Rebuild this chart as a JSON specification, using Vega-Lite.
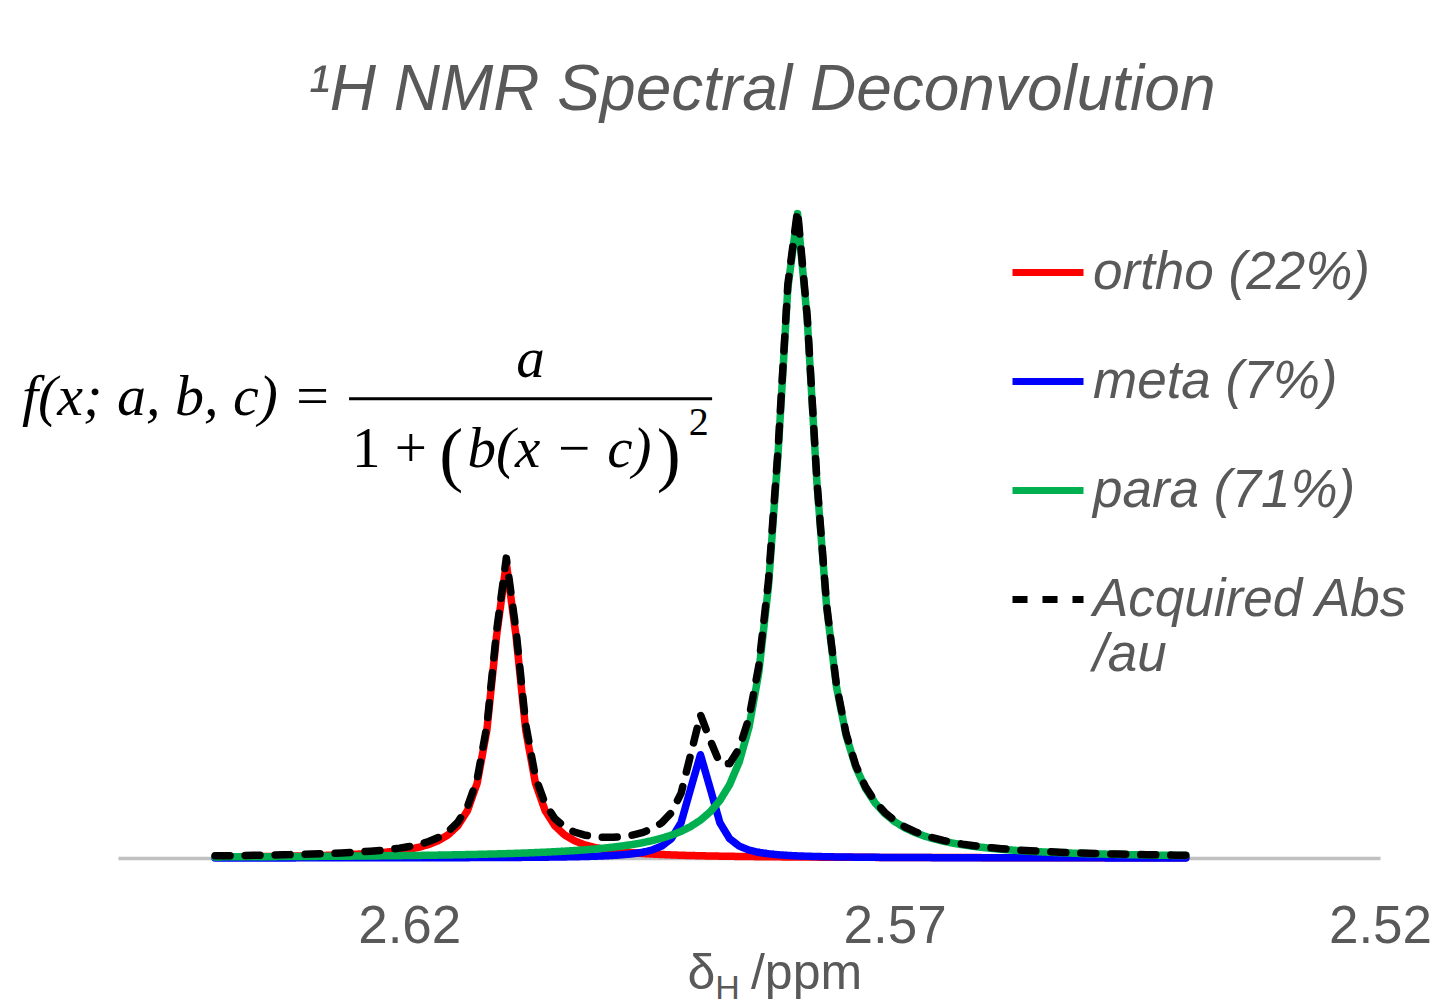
{
  "$schema": "https://vega.github.io/schema/vega-lite/v6.json",
  "width": 1262,
  "height": 710,
  "autosize": {"type": "none"},
  "padding": {"left": 118, "top": 148, "right": 56, "bottom": 149},
  "background": "white",
  "title": {
    "text": "¹H NMR Spectral Deconvolution",
    "font": "Liberation Sans", "fontSize": 64, "fontStyle": "italic", "fontWeight": "normal",
    "color": "#595959", "anchor": "middle", "frame": "group", "offset": -26,
    "baseline": "alphabetic", "dx": 13
  },
  "config": {
    "view": {"stroke": null},
    "legend": {
      "orient": "none", "legendX": 891, "legendY": 85.5, "padding": 0,
      "symbolType": "stroke", "symbolSize": 5041, "symbolStrokeWidth": 7,
      "labelFont": "Liberation Sans", "labelFontSize": 53, "labelFontStyle": "italic",
      "labelColor": "#595959", "labelLimit": 0, "labelOffset": 6, "rowPadding": 43,
      "labelBaseline": "middle"
    }
  },
  "datasets": {
    "spectrum": [
      {"ppm": 2.640, "ortho": 0.00155, "meta": 0.00013, "para": 0.00170, "acquired": 0.00338},
      {"ppm": 2.639, "ortho": 0.00166, "meta": 0.00014, "para": 0.00176, "acquired": 0.00356},
      {"ppm": 2.638, "ortho": 0.00178, "meta": 0.00014, "para": 0.00182, "acquired": 0.00374},
      {"ppm": 2.637, "ortho": 0.00191, "meta": 0.00015, "para": 0.00188, "acquired": 0.00394},
      {"ppm": 2.636, "ortho": 0.00206, "meta": 0.00016, "para": 0.00195, "acquired": 0.00417},
      {"ppm": 2.635, "ortho": 0.00223, "meta": 0.00016, "para": 0.00202, "acquired": 0.00441},
      {"ppm": 2.634, "ortho": 0.00242, "meta": 0.00017, "para": 0.00210, "acquired": 0.00469},
      {"ppm": 2.633, "ortho": 0.00263, "meta": 0.00018, "para": 0.00218, "acquired": 0.00499},
      {"ppm": 2.632, "ortho": 0.00287, "meta": 0.00019, "para": 0.00226, "acquired": 0.00532},
      {"ppm": 2.631, "ortho": 0.00315, "meta": 0.00020, "para": 0.00235, "acquired": 0.00570},
      {"ppm": 2.630, "ortho": 0.00347, "meta": 0.00021, "para": 0.00244, "acquired": 0.00612},
      {"ppm": 2.629, "ortho": 0.00384, "meta": 0.00022, "para": 0.00255, "acquired": 0.00661},
      {"ppm": 2.628, "ortho": 0.00428, "meta": 0.00023, "para": 0.00265, "acquired": 0.00716},
      {"ppm": 2.627, "ortho": 0.00479, "meta": 0.00024, "para": 0.00277, "acquired": 0.00780},
      {"ppm": 2.626, "ortho": 0.00540, "meta": 0.00026, "para": 0.00289, "acquired": 0.00855},
      {"ppm": 2.625, "ortho": 0.00614, "meta": 0.00027, "para": 0.00302, "acquired": 0.00943},
      {"ppm": 2.624, "ortho": 0.00703, "meta": 0.00029, "para": 0.00316, "acquired": 0.01048},
      {"ppm": 2.623, "ortho": 0.00813, "meta": 0.00030, "para": 0.00330, "acquired": 0.01173},
      {"ppm": 2.622, "ortho": 0.00952, "meta": 0.00032, "para": 0.00346, "acquired": 0.01330},
      {"ppm": 2.621, "ortho": 0.01128, "meta": 0.00035, "para": 0.00363, "acquired": 0.01526},
      {"ppm": 2.620, "ortho": 0.01358, "meta": 0.00037, "para": 0.00382, "acquired": 0.01777},
      {"ppm": 2.619, "ortho": 0.01665, "meta": 0.00039, "para": 0.00402, "acquired": 0.02106},
      {"ppm": 2.618, "ortho": 0.02087, "meta": 0.00042, "para": 0.00423, "acquired": 0.02552},
      {"ppm": 2.617, "ortho": 0.02688, "meta": 0.00045, "para": 0.00446, "acquired": 0.03179},
      {"ppm": 2.616, "ortho": 0.03583, "meta": 0.00049, "para": 0.00471, "acquired": 0.04103},
      {"ppm": 2.615, "ortho": 0.04987, "meta": 0.00053, "para": 0.00498, "acquired": 0.05538},
      {"ppm": 2.614, "ortho": 0.07342, "meta": 0.00057, "para": 0.00528, "acquired": 0.07927},
      {"ppm": 2.613, "ortho": 0.11600, "meta": 0.00063, "para": 0.00561, "acquired": 0.12224},
      {"ppm": 2.612, "ortho": 0.19820, "meta": 0.00068, "para": 0.00596, "acquired": 0.20484},
      {"ppm": 2.611, "ortho": 0.34450, "meta": 0.00075, "para": 0.00635, "acquired": 0.35160},
      {"ppm": 2.610, "ortho": 0.45700, "meta": 0.00083, "para": 0.00678, "acquired": 0.46461},
      {"ppm": 2.609, "ortho": 0.34450, "meta": 0.00091, "para": 0.00725, "acquired": 0.35266},
      {"ppm": 2.608, "ortho": 0.19820, "meta": 0.00102, "para": 0.00778, "acquired": 0.20700},
      {"ppm": 2.607, "ortho": 0.11600, "meta": 0.00114, "para": 0.00836, "acquired": 0.12550},
      {"ppm": 2.606, "ortho": 0.07342, "meta": 0.00129, "para": 0.00901, "acquired": 0.08372},
      {"ppm": 2.605, "ortho": 0.04987, "meta": 0.00146, "para": 0.00974, "acquired": 0.06107},
      {"ppm": 2.604, "ortho": 0.03583, "meta": 0.00168, "para": 0.01057, "acquired": 0.04808},
      {"ppm": 2.603, "ortho": 0.02688, "meta": 0.00194, "para": 0.01150, "acquired": 0.04032},
      {"ppm": 2.602, "ortho": 0.02087, "meta": 0.00227, "para": 0.01256, "acquired": 0.03570},
      {"ppm": 2.601, "ortho": 0.01665, "meta": 0.00270, "para": 0.01377, "acquired": 0.03312},
      {"ppm": 2.600, "ortho": 0.01358, "meta": 0.00325, "para": 0.01517, "acquired": 0.03200},
      {"ppm": 2.599, "ortho": 0.01128, "meta": 0.00399, "para": 0.01679, "acquired": 0.03206},
      {"ppm": 2.598, "ortho": 0.00952, "meta": 0.00502, "para": 0.01869, "acquired": 0.03323},
      {"ppm": 2.597, "ortho": 0.00813, "meta": 0.00650, "para": 0.02091, "acquired": 0.03554},
      {"ppm": 2.596, "ortho": 0.00703, "meta": 0.00871, "para": 0.02356, "acquired": 0.03930},
      {"ppm": 2.595, "ortho": 0.00614, "meta": 0.01226, "para": 0.02675, "acquired": 0.04515},
      {"ppm": 2.594, "ortho": 0.00540, "meta": 0.01836, "para": 0.03061, "acquired": 0.05437},
      {"ppm": 2.593, "ortho": 0.00479, "meta": 0.02996, "para": 0.03537, "acquired": 0.07012},
      {"ppm": 2.592, "ortho": 0.00428, "meta": 0.05463, "para": 0.04130, "acquired": 0.10021},
      {"ppm": 2.591, "ortho": 0.00384, "meta": 0.10794, "para": 0.04884, "acquired": 0.16062},
      {"ppm": 2.590, "ortho": 0.00347, "meta": 0.16000, "para": 0.05860, "acquired": 0.22207},
      {"ppm": 2.589, "ortho": 0.00315, "meta": 0.10794, "para": 0.07151, "acquired": 0.18260},
      {"ppm": 2.588, "ortho": 0.00287, "meta": 0.05463, "para": 0.08905, "acquired": 0.14655},
      {"ppm": 2.587, "ortho": 0.00263, "meta": 0.02996, "para": 0.11359, "acquired": 0.14618},
      {"ppm": 2.586, "ortho": 0.00242, "meta": 0.01836, "para": 0.14913, "acquired": 0.16991},
      {"ppm": 2.585, "ortho": 0.00223, "meta": 0.01226, "para": 0.20260, "acquired": 0.21709},
      {"ppm": 2.584, "ortho": 0.00206, "meta": 0.00871, "para": 0.28630, "acquired": 0.29707},
      {"ppm": 2.583, "ortho": 0.00191, "meta": 0.00650, "para": 0.42040, "acquired": 0.42881},
      {"ppm": 2.582, "ortho": 0.00178, "meta": 0.00502, "para": 0.62830, "acquired": 0.63510},
      {"ppm": 2.581, "ortho": 0.00166, "meta": 0.00399, "para": 0.88280, "acquired": 0.88845},
      {"ppm": 2.580, "ortho": 0.00155, "meta": 0.00325, "para": 0.99836, "acquired": 1.00316},
      {"ppm": 2.579, "ortho": 0.00145, "meta": 0.00270, "para": 0.83450, "acquired": 0.83865},
      {"ppm": 2.578, "ortho": 0.00136, "meta": 0.00227, "para": 0.58040, "acquired": 0.58403},
      {"ppm": 2.577, "ortho": 0.00128, "meta": 0.00194, "para": 0.38830, "acquired": 0.39152},
      {"ppm": 2.576, "ortho": 0.00121, "meta": 0.00168, "para": 0.26630, "acquired": 0.26919},
      {"ppm": 2.575, "ortho": 0.00114, "meta": 0.00146, "para": 0.19000, "acquired": 0.19260},
      {"ppm": 2.574, "ortho": 0.00108, "meta": 0.00129, "para": 0.14086, "acquired": 0.14323},
      {"ppm": 2.573, "ortho": 0.00102, "meta": 0.00114, "para": 0.10796, "acquired": 0.11012},
      {"ppm": 2.572, "ortho": 0.00097, "meta": 0.00102, "para": 0.08508, "acquired": 0.08707},
      {"ppm": 2.571, "ortho": 0.00092, "meta": 0.00091, "para": 0.06862, "acquired": 0.07045},
      {"ppm": 2.570, "ortho": 0.00087, "meta": 0.00083, "para": 0.05643, "acquired": 0.05813},
      {"ppm": 2.569, "ortho": 0.00083, "meta": 0.00075, "para": 0.04718, "acquired": 0.04876},
      {"ppm": 2.568, "ortho": 0.00079, "meta": 0.00068, "para": 0.04000, "acquired": 0.04147},
      {"ppm": 2.567, "ortho": 0.00076, "meta": 0.00063, "para": 0.03433, "acquired": 0.03572},
      {"ppm": 2.566, "ortho": 0.00072, "meta": 0.00057, "para": 0.02977, "acquired": 0.03106},
      {"ppm": 2.565, "ortho": 0.00069, "meta": 0.00053, "para": 0.02606, "acquired": 0.02728},
      {"ppm": 2.564, "ortho": 0.00066, "meta": 0.00049, "para": 0.02300, "acquired": 0.02415},
      {"ppm": 2.563, "ortho": 0.00063, "meta": 0.00045, "para": 0.02044, "acquired": 0.02152},
      {"ppm": 2.562, "ortho": 0.00061, "meta": 0.00042, "para": 0.01828, "acquired": 0.01931},
      {"ppm": 2.561, "ortho": 0.00058, "meta": 0.00039, "para": 0.01645, "acquired": 0.01742},
      {"ppm": 2.560, "ortho": 0.00056, "meta": 0.00037, "para": 0.01488, "acquired": 0.01581},
      {"ppm": 2.559, "ortho": 0.00054, "meta": 0.00035, "para": 0.01352, "acquired": 0.01441},
      {"ppm": 2.558, "ortho": 0.00052, "meta": 0.00032, "para": 0.01234, "acquired": 0.01318},
      {"ppm": 2.557, "ortho": 0.00050, "meta": 0.00030, "para": 0.01130, "acquired": 0.01210},
      {"ppm": 2.556, "ortho": 0.00048, "meta": 0.00029, "para": 0.01039, "acquired": 0.01116},
      {"ppm": 2.555, "ortho": 0.00046, "meta": 0.00027, "para": 0.00959, "acquired": 0.01032},
      {"ppm": 2.554, "ortho": 0.00045, "meta": 0.00026, "para": 0.00888, "acquired": 0.00959},
      {"ppm": 2.553, "ortho": 0.00043, "meta": 0.00024, "para": 0.00824, "acquired": 0.00891},
      {"ppm": 2.552, "ortho": 0.00042, "meta": 0.00023, "para": 0.00767, "acquired": 0.00832},
      {"ppm": 2.551, "ortho": 0.00040, "meta": 0.00022, "para": 0.00715, "acquired": 0.00777},
      {"ppm": 2.550, "ortho": 0.00039, "meta": 0.00021, "para": 0.00669, "acquired": 0.00729},
      {"ppm": 2.549, "ortho": 0.00038, "meta": 0.00020, "para": 0.00627, "acquired": 0.00685},
      {"ppm": 2.548, "ortho": 0.00036, "meta": 0.00019, "para": 0.00589, "acquired": 0.00644},
      {"ppm": 2.547, "ortho": 0.00035, "meta": 0.00018, "para": 0.00554, "acquired": 0.00607},
      {"ppm": 2.546, "ortho": 0.00034, "meta": 0.00017, "para": 0.00522, "acquired": 0.00573},
      {"ppm": 2.545, "ortho": 0.00033, "meta": 0.00016, "para": 0.00493, "acquired": 0.00542},
      {"ppm": 2.544, "ortho": 0.00032, "meta": 0.00016, "para": 0.00466, "acquired": 0.00514},
      {"ppm": 2.543, "ortho": 0.00031, "meta": 0.00015, "para": 0.00441, "acquired": 0.00487},
      {"ppm": 2.542, "ortho": 0.00030, "meta": 0.00014, "para": 0.00419, "acquired": 0.00463},
      {"ppm": 2.541, "ortho": 0.00029, "meta": 0.00014, "para": 0.00398, "acquired": 0.00441},
      {"ppm": 2.540, "ortho": 0.00029, "meta": 0.00013, "para": 0.00378, "acquired": 0.00420}
    ]
  },
  "layer": [
    {
      "data": {"name": "spectrum"},
      "transform": [{"fold": ["ortho", "meta", "para", "acquired"], "as": ["series", "abs"]}],
      "mark": {"type": "line", "strokeWidth": 7.5, "strokeCap": "round", "strokeJoin": "round"},
      "encoding": {
        "x": {
          "field": "ppm", "type": "quantitative",
          "scale": {"domain": [2.52, 2.65], "reverse": true, "nice": false, "zero": false},
          "axis": {
            "values": [2.62, 2.57, 2.52], "format": ".2f", "title": null,
            "ticks": false, "tickSize": 0, "grid": false,
            "domainColor": "#C0C0C0", "domainWidth": 3.5,
            "labelFont": "Liberation Sans", "labelFontSize": 53, "labelColor": "#595959",
            "labelPadding": 42, "labelFlush": false, "labelOverlap": false, "labelBound": false
          }
        },
        "y": {
          "field": "abs", "type": "quantitative",
          "scale": {"domain": [0, 1.1], "nice": false, "zero": false},
          "axis": null
        },
        "color": {
          "field": "series", "type": "nominal",
          "scale": {"domain": ["ortho", "meta", "para", "acquired"], "range": ["#FF0000", "#0000FF", "#00B050", "#000000"]},
          "legend": {
            "title": null,
            "labelExpr": "datum.label == 'ortho' ? 'ortho (22%)' : datum.label == 'meta' ? 'meta (7%)' : datum.label == 'para' ? 'para (71%)' : ['Acquired Abs', '/au']"
          }
        },
        "strokeDash": {
          "field": "series", "type": "nominal",
          "scale": {"domain": ["ortho", "meta", "para", "acquired"], "range": [[1, 0], [1, 0], [1, 0], [15, 15]]},
          "legend": {
            "title": null,
            "labelExpr": "datum.label == 'ortho' ? 'ortho (22%)' : datum.label == 'meta' ? 'meta (7%)' : datum.label == 'para' ? 'para (71%)' : ['Acquired Abs', '/au']"
          }
        }
      }
    },
    {
      "data": {"values": [{}]},
      "mark": {"type": "text", "font": "Liberation Serif", "fontSize": 58, "fontStyle": "italic", "align": "left", "baseline": "alphabetic", "color": "#000000"},
      "encoding": {
        "x": {"datum": 2.6599, "type": "quantitative", "scale": {"domain": [2.52, 2.65], "reverse": true, "nice": false, "zero": false}},
        "y": {"datum": 0.6868, "type": "quantitative", "scale": {"domain": [0, 1.1], "nice": false, "zero": false}, "axis": null},
        "text": {"value": "f(x; a, b, c) ="}
      }
    },
    {
      "data": {"values": [{}]},
      "mark": {"type": "text", "font": "Liberation Serif", "fontSize": 57, "fontStyle": "italic", "align": "center", "baseline": "alphabetic", "color": "#000000"},
      "encoding": {
        "x": {"datum": 2.6075, "type": "quantitative", "scale": {"domain": [2.52, 2.65], "reverse": true, "nice": false, "zero": false}},
        "y": {"datum": 0.745, "type": "quantitative", "scale": {"domain": [0, 1.1], "nice": false, "zero": false}, "axis": null},
        "text": {"value": "a"}
      }
    },
    {
      "data": {"values": [{}]},
      "mark": {"type": "rule", "strokeWidth": 3, "color": "#000000"},
      "encoding": {
        "x": {"datum": 2.6262, "type": "quantitative", "scale": {"domain": [2.52, 2.65], "reverse": true, "nice": false, "zero": false}},
        "x2": {"datum": 2.5888},
        "y": {"datum": 0.7116, "type": "quantitative", "scale": {"domain": [0, 1.1], "nice": false, "zero": false}, "axis": null}
      }
    },
    {
      "data": {"values": [{}]},
      "mark": {"type": "text", "font": "Liberation Serif", "fontSize": 57, "align": "left", "baseline": "alphabetic", "color": "#000000"},
      "encoding": {
        "x": {"datum": 2.6259, "type": "quantitative", "scale": {"domain": [2.52, 2.65], "reverse": true, "nice": false, "zero": false}},
        "y": {"datum": 0.6062, "type": "quantitative", "scale": {"domain": [0, 1.1], "nice": false, "zero": false}, "axis": null},
        "text": {"value": "1 +"}
      }
    },
    {
      "data": {"values": [{}]},
      "mark": {"type": "text", "font": "Liberation Serif", "fontSize": 72, "align": "left", "baseline": "alphabetic", "color": "#000000"},
      "encoding": {
        "x": {"datum": 2.6169, "type": "quantitative", "scale": {"domain": [2.52, 2.65], "reverse": true, "nice": false, "zero": false}},
        "y": {"datum": 0.5891, "type": "quantitative", "scale": {"domain": [0, 1.1], "nice": false, "zero": false}, "axis": null},
        "text": {"value": "("}
      }
    },
    {
      "data": {"values": [{}]},
      "mark": {"type": "text", "font": "Liberation Serif", "fontSize": 57, "fontStyle": "italic", "align": "left", "baseline": "alphabetic", "color": "#000000"},
      "encoding": {
        "x": {"datum": 2.6140, "type": "quantitative", "scale": {"domain": [2.52, 2.65], "reverse": true, "nice": false, "zero": false}},
        "y": {"datum": 0.6062, "type": "quantitative", "scale": {"domain": [0, 1.1], "nice": false, "zero": false}, "axis": null},
        "text": {"value": "b(x − c)"}
      }
    },
    {
      "data": {"values": [{}]},
      "mark": {"type": "text", "font": "Liberation Serif", "fontSize": 72, "align": "left", "baseline": "alphabetic", "color": "#000000"},
      "encoding": {
        "x": {"datum": 2.5945, "type": "quantitative", "scale": {"domain": [2.52, 2.65], "reverse": true, "nice": false, "zero": false}},
        "y": {"datum": 0.5891, "type": "quantitative", "scale": {"domain": [0, 1.1], "nice": false, "zero": false}, "axis": null},
        "text": {"value": ")"}
      }
    },
    {
      "data": {"values": [{}]},
      "mark": {"type": "text", "font": "Liberation Serif", "fontSize": 40, "align": "left", "baseline": "alphabetic", "color": "#000000"},
      "encoding": {
        "x": {"datum": 2.5912, "type": "quantitative", "scale": {"domain": [2.52, 2.65], "reverse": true, "nice": false, "zero": false}},
        "y": {"datum": 0.6558, "type": "quantitative", "scale": {"domain": [0, 1.1], "nice": false, "zero": false}, "axis": null},
        "text": {"value": "2"}
      }
    },
    {
      "data": {"values": [{}]},
      "mark": {"type": "text", "font": "Liberation Sans", "fontSize": 50, "align": "center", "baseline": "alphabetic", "color": "#595959"},
      "encoding": {
        "x": {"datum": 2.5899, "type": "quantitative", "scale": {"domain": [2.52, 2.65], "reverse": true, "nice": false, "zero": false}},
        "y": {"datum": -0.2030, "type": "quantitative", "scale": {"domain": [0, 1.1], "nice": false, "zero": false}, "axis": null},
        "text": {"value": "δ"}
      }
    },
    {
      "data": {"values": [{}]},
      "mark": {"type": "text", "font": "Liberation Sans", "fontSize": 34, "align": "center", "baseline": "alphabetic", "color": "#595959"},
      "encoding": {
        "x": {"datum": 2.5872, "type": "quantitative", "scale": {"domain": [2.52, 2.65], "reverse": true, "nice": false, "zero": false}},
        "y": {"datum": -0.2185, "type": "quantitative", "scale": {"domain": [0, 1.1], "nice": false, "zero": false}, "axis": null},
        "text": {"value": "H"}
      }
    },
    {
      "data": {"values": [{}]},
      "mark": {"type": "text", "font": "Liberation Sans", "fontSize": 50, "align": "left", "baseline": "alphabetic", "color": "#595959"},
      "encoding": {
        "x": {"datum": 2.5848, "type": "quantitative", "scale": {"domain": [2.52, 2.65], "reverse": true, "nice": false, "zero": false}},
        "y": {"datum": -0.2030, "type": "quantitative", "scale": {"domain": [0, 1.1], "nice": false, "zero": false}, "axis": null},
        "text": {"value": "/ppm"}
      }
    }
  ]
}
